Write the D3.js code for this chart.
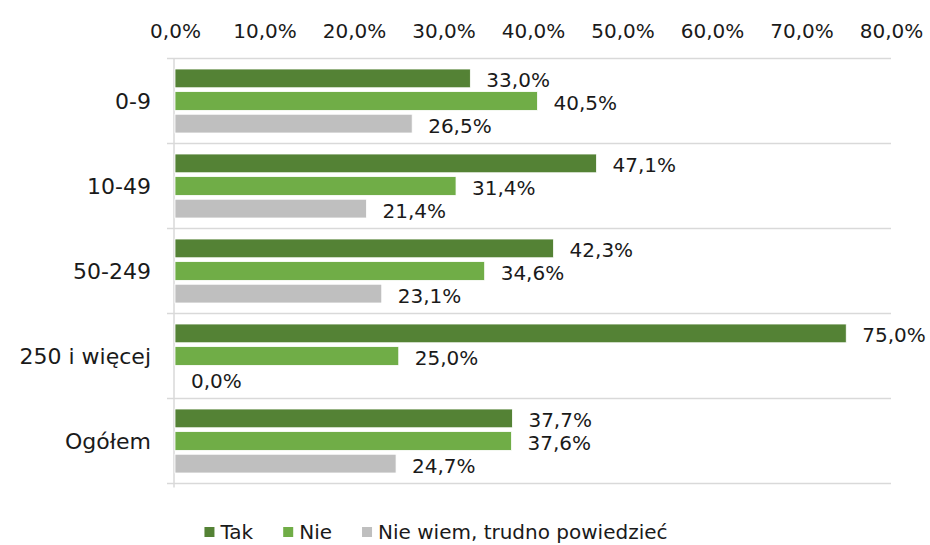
<!DOCTYPE html>
<html>
<head>
<meta charset="utf-8">
<script src="https://cdn.jsdelivr.net/npm/d3@7"></script>
<style>
  body { margin: 0; background: #fff; }
  text { font-family: "DejaVu Sans", sans-serif; fill: #1a1a1a; }
</style>
</head>
<body>
<svg id="chart"></svg>
<script>
const svgWidth = 930;
const svgHeight = 545;

const categories = ['0-9', '10-49', '50-249', '250 i więcej', 'Ogółem'];
const seriesNames = ['Tak', 'Nie', 'Nie wiem, trudno powiedzieć'];
const tak = [33.0, 47.1, 42.3, 75.0, 37.7];
const nie = [40.5, 31.4, 34.6, 25.0, 37.6];
const nieWiem = [26.5, 21.4, 23.1, 0.0, 24.7];
const xTicks = [0, 10, 20, 30, 40, 50, 60, 70, 80];
const colors = ['#548235', '#70ad47', '#bfbfbf'];

const seriesValues = [tak, nie, nieWiem];

const fmt = v => v.toFixed(1).replace('.', ',') + '%';

const svg = d3.select('#chart')
    .attr('width', svgWidth)
    .attr('height', svgHeight);

const x = d3.scaleLinear()
    .domain([0, 80])
    .range([175, 891]);

const y = d3.scaleBand()
    .domain(categories)
    .range([58.5, 483.5]);

const ySub = d3.scaleBand()
    .domain(seriesNames)
    .range([10.5, y.bandwidth() - 10.5])
    .paddingInner(0.17);

// top axis labels only
svg.append('g')
    .attr('transform', 'translate(0,38)')
    .call(d3.axisTop(x).tickValues(xTicks).tickSize(0).tickPadding(0).tickFormat(fmt))
    .call(g => g.select('.domain').remove())
    .call(g => g.selectAll('text')
        .attr('font-size', 20)
        .attr('font-family', '"DejaVu Sans", sans-serif')
        .attr('fill', '#1a1a1a'));

// horizontal lines between categories
const bounds = categories.map(c => y(c)).concat([y(categories[categories.length - 1]) + y.bandwidth()]);
svg.selectAll('.hgrid')
    .data(bounds)
    .enter()
    .append('line')
    .attr('class', 'hgrid')
    .attr('x1', x(0) - 8)
    .attr('x2', x(80))
    .attr('y1', d => d)
    .attr('y2', d => d)
    .attr('stroke', '#d9d9d9')
    .attr('stroke-width', 1.5);

// vertical axis line
svg.append('line')
    .attr('x1', x(0) - 1)
    .attr('x2', x(0) - 1)
    .attr('y1', y.range()[0])
    .attr('y2', y.range()[1] + 4)
    .attr('stroke', '#d9d9d9')
    .attr('stroke-width', 1.5);

// category labels
svg.selectAll('.catlabel')
    .data(categories)
    .enter()
    .append('text')
    .attr('class', 'catlabel')
    .attr('x', 151)
    .attr('y', d => y(d) + y.bandwidth() / 2)
    .attr('dy', '0.35em')
    .attr('text-anchor', 'end')
    .attr('font-size', 22)
    .text(d => d);

const groups = svg.selectAll('.series')
    .data(seriesNames)
    .enter()
    .append('g')
    .attr('class', 'series');

groups.each(function (name, si) {
    const g = d3.select(this);
    const vals = seriesValues[si];
    g.selectAll('rect')
        .data(categories)
        .enter()
        .append('rect')
        .attr('x', x(0))
        .attr('y', c => y(c) + ySub(name))
        .attr('width', (c, i) => x(vals[i]) - x(0))
        .attr('height', ySub.bandwidth())
        .attr('fill', colors[si])
        .attr('stroke', '#fff')
        .attr('stroke-width', 0.8);

    g.selectAll('text')
        .data(categories)
        .enter()
        .append('text')
        .attr('x', (c, i) => x(vals[i]) + 16)
        .attr('y', c => y(c) + ySub(name) + ySub.bandwidth() / 2 + 2)
        .attr('dy', '0.35em')
        .attr('font-size', 20)
        .text((c, i) => fmt(vals[i]));
});

// legend
const legend = svg.append('g').attr('class', 'legend');
let lx = 0;
seriesNames.forEach((name, i) => {
    const item = legend.append('g').attr('transform', `translate(${lx},0)`);
    item.append('rect')
        .attr('x', 0)
        .attr('y', -5)
        .attr('width', 10)
        .attr('height', 10)
        .attr('fill', colors[i]);
    const t = item.append('text')
        .attr('x', 16)
        .attr('y', 0)
        .attr('dy', '0.35em')
        .attr('font-size', 20)
        .text(name);
    lx += 16 + t.node().getComputedTextLength() + 30;
});
const legendWidth = lx - 30;
legend.attr('transform', `translate(${436 - legendWidth / 2},532)`);
</script>
</body>
</html>
